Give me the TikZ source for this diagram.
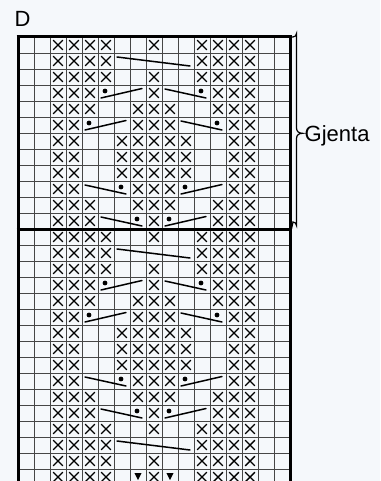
\documentclass[tikz,border=0pt]{standalone}
\usepackage{fontspec}
\setmainfont{Liberation Sans}
\definecolor{bgcol}{RGB}{245,248,251}
\definecolor{gridcol}{RGB}{70,70,70}
\newcommand\Xc[2]{\draw[xmark] ({10+16*(#1)-4.8},{29+16*(#2)-4.8}) -- ++(9.6,9.6) ({10+16*(#1)+4.8},{29+16*(#2)-4.8}) -- ++(-9.6,9.6);}
\newcommand\XR[2]{\foreach \cc in {#1} {\Xc{\cc}{#2}}}
\newcommand\Fall[3]{\draw[cable] ({18+16*((#1)-1)+3},{37+16*((#3)-1)+4}) -- ({18+16*(#2)-4},{37+16*(#3)-3});}
\newcommand\Rise[3]{\draw[cable] ({18+16*((#1)-1)+3},{37+16*(#3)-3}) -- ({18+16*(#2)-4},{37+16*((#3)-1)+3.5});}
\newcommand\Dt[2]{\fill ({10+16*(#1)-1},{29+16*(#2)-2}) circle (2.4);}
\newcommand\Tri[2]{\fill ({10+16*(#1)-3.6},{29+16*(#2)-4}) -- ++(7.2,0) -- ++(-3.6,7) -- cycle;}
\newcommand\BlockTop[1]{%
  \XR{3,4,5,6,9,12,13,14,15}{#1+1}
  \XR{3,4,5,6,12,13,14,15}{#1+2}
  \Fall{7}{11}{#1+2}
  \XR{3,4,5,6,9,12,13,14,15}{#1+3}
}
\newcommand\BlockRest[1]{%
  \XR{3,4,5,9,13,14,15}{#1+4}
  \Rise{6}{8}{#1+4}\Dt{6}{#1+4}
  \Fall{10}{12}{#1+4}\Dt{12}{#1+4}
  \XR{3,4,5,8,9,10,13,14,15}{#1+5}
  \XR{3,4,8,9,10,14,15}{#1+6}
  \Rise{5}{7}{#1+6}\Dt{5}{#1+6}
  \Fall{11}{13}{#1+6}\Dt{13}{#1+6}
  \XR{3,4,7,8,9,10,11,14,15}{#1+7}
  \XR{3,4,7,8,9,10,11,14,15}{#1+8}
  \XR{3,4,7,8,9,10,11,14,15}{#1+9}
  \XR{3,4,8,9,10,14,15}{#1+10}
  \Fall{5}{7}{#1+10}\Dt{7}{#1+10}
  \Rise{11}{13}{#1+10}\Dt{11}{#1+10}
  \XR{3,4,5,8,9,10,13,14,15}{#1+11}
  \XR{3,4,5,9,13,14,15}{#1+12}
  \Fall{6}{8}{#1+12}\Dt{8}{#1+12}
  \Rise{10}{12}{#1+12}\Dt{10}{#1+12}
}
\begin{document}
\begin{tikzpicture}[x=1pt,y=-1pt,
  gridline/.style={line width=0.9pt, draw=gridcol},
  borderline/.style={line width=3pt, draw=black},
  xmark/.style={line width=1.4pt, draw=black},
  cable/.style={line width=1.5pt, draw=black, line cap=round},
  bracket/.style={line width=1.2pt, draw=black},
  lbl/.style={inner sep=0pt, font=\fontsize{22}{26}\selectfont}]
\fill[bgcol] (0,0) rectangle (380,481);
\useasboundingbox (0,0) rectangle (380,481);
\begin{scope}
\clip (0,0) rectangle (380,481);
\foreach \k in {0,...,28} {\draw[gridline] (18,{37+16*\k}) -- (290,{37+16*\k});}
\foreach \k in {0,...,17} {\draw[gridline] ({18+16*\k},37) -- ({18+16*\k},490);}
\BlockTop{0}
\BlockRest{0}
\BlockTop{12}
\BlockRest{12}
\BlockTop{24}
\XR{3,4,5,6,9,12,13,14,15}{28}
\Tri{8}{28}\Tri{10}{28}
\draw[borderline] (18,35.5) -- (18,490);
\draw[borderline] (290,35.5) -- (290,490);
\draw[borderline] (16.5,37) -- (291.5,37);
\draw[borderline] (16.5,229) -- (291.5,229);
\end{scope}
\draw[bracket] (291.5,37) -- (293,37) arc[start angle=90, end angle=0, radius=3.5] -- (296.5,128)
  .. controls (296.5,131.5) and (299,133.3) .. (302.5,133.3)
  .. controls (299,133.3) and (296.5,135) .. (296.5,138.5)
  -- (296.5,225.5) arc[start angle=0, end angle=-90, radius=3.5] -- (291.5,229);
\node[lbl, anchor=base west] (D) at (14.5,27) {D};
\node[lbl, anchor=base west] (gj) at (304.5,141.5) {Gjenta};
\end{tikzpicture}
\end{document}
